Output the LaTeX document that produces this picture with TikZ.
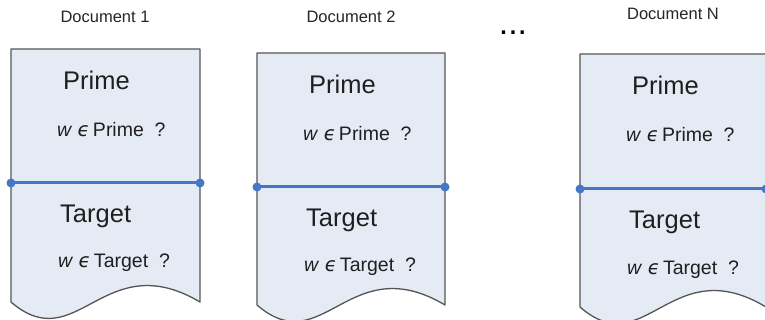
\documentclass[tikz,border=0pt]{standalone}
\usepackage{fontspec}
\setmainfont{Liberation Sans}
\newfontfamily\epsfont{DejaVu Sans}
\newcommand\inrel{{\epsfont\itshape ϵ}}
\definecolor{sheetfill}{HTML}{E5EBF5}
\definecolor{sheetline}{HTML}{555555}
\definecolor{splitblue}{HTML}{4676C8}
\tikzset{
  sheet/.style={draw=sheetline, fill=sheetfill, line width=1.3pt, line join=round},
  divider/.style={draw=splitblue, line width=3pt},
  knob/.style={fill=splitblue},
  doctitle/.style={anchor=base, inner sep=0pt, font=\fontsize{16.5}{18}\selectfont, text=black!85},
  bigtxt/.style={anchor=base west, inner sep=0pt, font=\fontsize{25.5}{28}\selectfont, text=black!88},
  smalltxt/.style={anchor=base west, inner sep=0pt, font=\fontsize{19.5}{22}\selectfont, text=black!88},
}
% #1 name, #2 left, #3 right, #4 top, #5 divider, #6 bottom edge
\newcommand\docsheet[6]{%
  \draw[sheet] (#2,#6) -- (#2,#4) -- (#3,#4) -- (#3,#6)
     .. controls ({#2+0.49*(#3-#2)},{#6-57}) and ({#2+0.35*(#3-#2)},{#6+57}) .. (#2,#6) -- cycle;
  \coordinate (#1-dl) at (#2,#5);
  \coordinate (#1-dr) at (#3,#5);
  \draw[divider] (#1-dl) -- (#1-dr);
  \fill[knob] (#1-dl) circle[radius=4.5pt];
  \fill[knob] (#1-dr) circle[radius=4.5pt];
  \node[bigtxt] (#1-prime) at ({#2+52},{#4+41}) {Prime};
  \node[smalltxt] (#1-wprime) at ({#2+46},{#4+88}) {\textit{w} \inrel\,Prime\ \ ?};
  \node[bigtxt] (#1-target) at ({#2+49},{#5+40}) {Target};
  \node[smalltxt] (#1-wtarget) at ({#2+47},{#5+85}) {\textit{w} \inrel\,Target\ \ ?};
}
\begin{document}
\begin{tikzpicture}[x=1pt, y=-1pt]
  \useasboundingbox (0,0) rectangle (765,320);
  \clip (0,0) rectangle (765,320);
  \fill[white] (0,0) rectangle (765,320);

  \docsheet{d1}{11}{200}{49}{183}{302}
  \docsheet{d2}{257}{445}{53}{187}{305}
  \docsheet{dn}{580}{766}{54}{189}{307}

  \node[doctitle] (t1) at (105,23) {Document 1};
  \node[doctitle] (t2) at (351,23) {Document 2};
  \node[doctitle] (tn) at (673,20) {Document N};
  \node[anchor=base, inner sep=0pt, font=\fontsize{34}{36}\selectfont] (more) at (513,35) {...};
\end{tikzpicture}
\end{document}
